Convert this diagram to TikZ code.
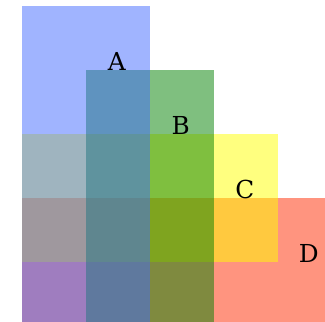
\documentclass[tikz,border=0pt]{standalone}
\usepackage{fontspec}
\setmainfont{DejaVu Serif}
\usepackage{tikz}

\definecolor{setA}{RGB}{65,105,255}
\definecolor{setB}{RGB}{0,128,0}
\definecolor{setC}{RGB}{255,255,0}
\definecolor{setD}{RGB}{255,41,0}

\begin{document}
\begin{tikzpicture}[
  x=1cm, y=-1cm,
  zone/.style={fill opacity=0.5, draw=none},
  lbl/.style={font=\fontsize{11}{12}\selectfont, inner sep=0pt, text=black}
]
\useasboundingbox (0,0) rectangle (5.078,5.016);
\clip (0,0) rectangle (5.078,5.016);
% ---- grid of 64px steps, offset (22px,6px) ----
\begin{scope}[shift={(0.344,0.094)}]
  % ---- sets, bottom one first ----
  \fill[zone, fill=setD] (0,3) rectangle (5,5);
  \fill[zone, fill=setC] (0,2) rectangle (4,4);
  \fill[zone, fill=setB] (1,1) rectangle (3,5);
  \fill[zone, fill=setA] (0,0) rectangle (2,5);
  % ---- labels ----
  \foreach \i/\nm in {0/A,1/B,2/C,3/D}{
    \node[lbl] (lab\nm) at (\i+1.48,\i+0.86) {\nm};
  }
\end{scope}
\end{tikzpicture}
\end{document}
